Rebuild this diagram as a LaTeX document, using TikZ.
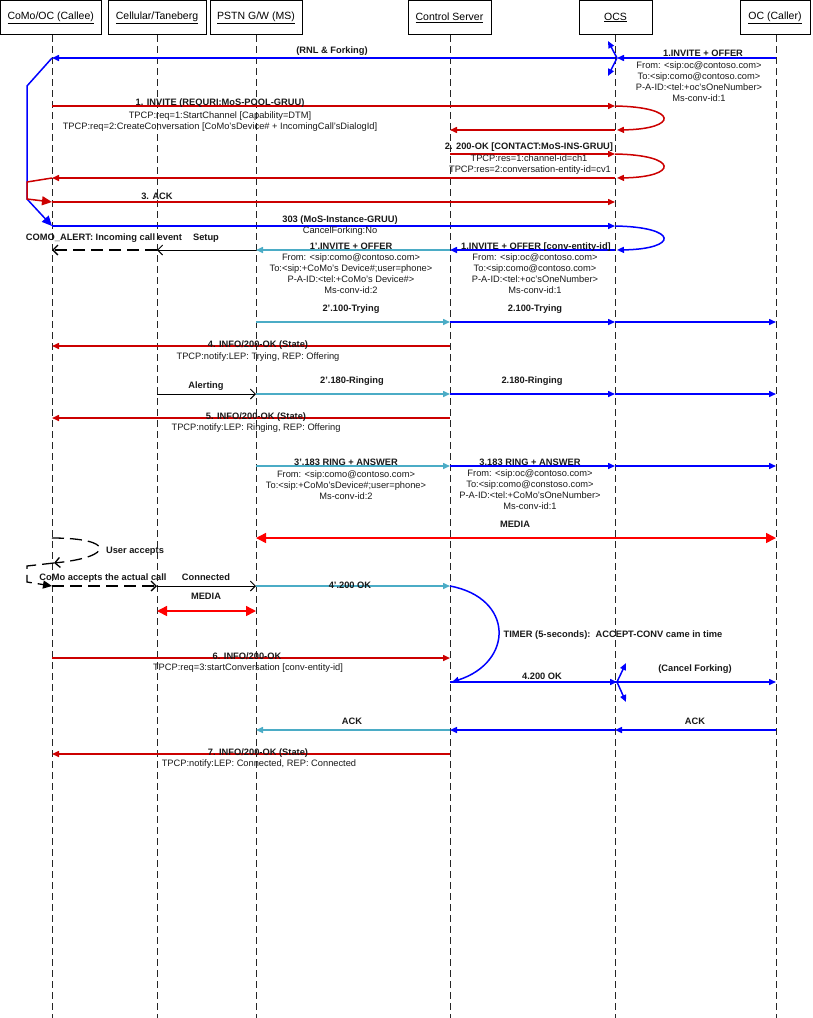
\documentclass[tikz,border=0pt]{standalone}
\usepackage{fontspec}
\setmainfont{Liberation Sans}
\usetikzlibrary{arrows.meta}
\definecolor{mred}{RGB}{204,0,0}
\definecolor{bred}{RGB}{255,0,0}
\definecolor{mblue}{RGB}{0,0,255}
\definecolor{mcyan}{RGB}{75,172,198}
\tikzset{
  life/.style={draw=black!85, line width=0.9pt, dash pattern=on 7pt off 4pt},
  hdr/.style={draw=black, line width=0.8pt, fill=white, minimum height=34pt, inner sep=0pt, font=\fontsize{10.5}{12}\selectfont},
  lb/.style={font=\fontsize{9.3}{11}\selectfont\bfseries, inner sep=0pt, anchor=base, text=black!90},
  lt/.style={font=\fontsize{9.3}{11}\selectfont, inner sep=0pt, anchor=base, text=black!90},
  tip/.style={-{Triangle[length=7pt,width=6pt]}},
  bigtip/.style={-{Triangle[length=10pt,width=9pt]}},
  rmsg/.style={draw=mred, line width=1.5pt, tip},
  bmsg/.style={draw=mblue, line width=1.5pt, tip},
  cmsg/.style={draw=mcyan, line width=1.5pt, tip},
  media/.style={draw=bred, line width=1.5pt, {Triangle[length=10pt,width=10pt]}-{Triangle[length=10pt,width=10pt]}},
  kmsg/.style={draw=black, line width=0.9pt, -{Straight Barb[length=5pt,width=10pt]}},
  kdash/.style={draw=black, line width=1.3pt, dash pattern=on 12pt off 6pt},
}
\begin{document}
\begin{tikzpicture}[x=1pt,y=-1pt]
\useasboundingbox (0,0) rectangle (813,1018);
% lifelines
\coordinate (L1) at (52,35);  \coordinate (B1) at (52,1018);
\coordinate (L2) at (157,35); \coordinate (B2) at (157,1018);
\coordinate (L3) at (256,35); \coordinate (B3) at (256,1018);
\coordinate (L4) at (450,35); \coordinate (B4) at (450,1018);
\coordinate (L5) at (615,35); \coordinate (B5) at (615,1018);
\coordinate (L6) at (776,35); \coordinate (B6) at (776,1018);
\foreach \i in {1,...,6} {\draw[life] (L\i) -- (B\i);}
% headers
\node[hdr, minimum width=100.5pt] (callee) at (50.75,17.5) {\underline{CoMo/OC (Callee)}};
\node[hdr, minimum width=98pt] (cell) at (157,17.5) {\underline{Cellular/Taneberg}};
\node[hdr, minimum width=92pt] (pstn) at (256,17.5) {\underline{PSTN G/W (MS)}};
\node[hdr, minimum width=83pt] (ctrl) at (449.5,17.5) {\underline{Control Server}};
\node[hdr, minimum width=73pt] (ocs) at (615.5,17.5) {\underline{OCS}};
\node[hdr, minimum width=70pt] (caller) at (775,17.5) {\underline{OC (Caller)}};

% helper coordinates
\coordinate (fk1) at (617,58);
\coordinate (fu1) at (608,41);
\coordinate (fd1) at (608,76);
\coordinate (a1) at (27,86);
\coordinate (a2) at (27,182);
\coordinate (a3) at (27,199);
\coordinate (fk2) at (617,682);
\coordinate (fu2) at (626,663);
\coordinate (fd2) at (626,702);
\coordinate (u1) at (54,563);
\coordinate (u2) at (27,566);
\coordinate (u3) at (27,582);

% forking invite
\draw[bmsg] (L6|-0,58) -- (fk1);
\draw[bmsg] (fk1) -- (fu1);
\draw[bmsg] (fk1) -- (fd1);
\draw[bmsg] (L5|-0,58) -- (L1|-0,58);
% activation blue
\draw[mblue, line width=1.5pt, bigtip] (L1|-0,58) -- (a1) -- (a3) -- (L1|-0,226);
% 1. INVITE
\draw[rmsg] (L1|-0,106) -- (L5|-0,106);
\draw[rmsg] (L5|-0,106) .. controls (679,107) and (679,129) .. (617,130);
\draw[rmsg] (L5|-0,130) -- (L4|-0,130);
% 2. 200 OK
\draw[rmsg] (L4|-0,154) -- (L5|-0,154);
\draw[rmsg] (L5|-0,154) .. controls (679,155) and (679,177) .. (617,178);
\draw[rmsg] (L5|-0,178) -- (L1|-0,178);
\draw[mred, line width=1.5pt, bigtip] (L1|-0,178) -- (a2) -- (a3) -- (L1|-0,202);
% 3. ACK
\draw[rmsg] (L1|-0,202) -- (L5|-0,202);
% 303
\draw[bmsg] (L1|-0,226) -- (L5|-0,226);
\draw[bmsg] (L5|-0,226) .. controls (679,227) and (679,249) .. (617,250);
\draw[bmsg] (L5|-0,250) -- (L4|-0,250);
\draw[cmsg] (L4|-0,250) -- (L3|-0,250);
\draw[kmsg] (L3|-0,250) -- (L2|-0,250);
\draw[kdash, -{Straight Barb[length=5pt,width=10pt]}] (L2|-0,250) -- (L1|-0,250);
% 100 trying
\draw[cmsg] (L3|-0,322) -- (L4|-0,322);
\draw[bmsg] (L4|-0,322) -- (L5|-0,322);
\draw[bmsg] (L5|-0,322) -- (L6|-0,322);
% 4. INFO
\draw[rmsg] (L4|-0,346) -- (L1|-0,346);
% alerting / ringing
\draw[kmsg] (L2|-0,394) -- (L3|-0,394);
\draw[cmsg] (L3|-0,394) -- (L4|-0,394);
\draw[bmsg] (L4|-0,394) -- (L5|-0,394);
\draw[bmsg] (L5|-0,394) -- (L6|-0,394);
% 5. INFO
\draw[rmsg] (L4|-0,418) -- (L1|-0,418);
% 183
\draw[cmsg] (L3|-0,466) -- (L4|-0,466);
\draw[bmsg] (L4|-0,466) -- (L5|-0,466);
\draw[bmsg] (L5|-0,466) -- (L6|-0,466);
% MEDIA
\draw[media] (L3|-0,538) -- (L6|-0,538);
% user accepts
\draw[kdash, -{Straight Barb[length=5pt,width=10pt]}] (L1|-0,538) .. controls (115,538) and (115,557) .. (u1);
\draw[kdash, -{Triangle[length=9pt,width=8pt]}] (u1) -- (u2) -- (u3) -- (L1|-0,586);
\draw[kdash, -{Straight Barb[length=5pt,width=10pt]}] (L1|-0,586) -- (L2|-0,586);
\draw[kmsg] (L2|-0,586) -- (L3|-0,586);
\draw[cmsg] (L3|-0,586) -- (L4|-0,586);
\draw[media] (L2|-0,611) -- (L3|-0,611);
% timer
\draw[bmsg] (L4|-0,586) .. controls (514,598) and (514,662) .. (452,682);
% 6. INFO
\draw[rmsg] (L1|-0,658) -- (L4|-0,658);
% 4.200 OK
\draw[bmsg] (L4|-0,682) -- (fk2);
\draw[bmsg] (fk2) -- (fu2);
\draw[bmsg] (fk2) -- (fd2);
\draw[bmsg] (L5|-0,682) -- (L6|-0,682);
% ACK
\draw[bmsg] (L6|-0,730) -- (L5|-0,730);
\draw[bmsg] (L5|-0,730) -- (L4|-0,730);
\draw[cmsg] (L4|-0,730) -- (L3|-0,730);
% 7. INFO
\draw[rmsg] (L4|-0,754) -- (L1|-0,754);

% labels
\node[lb] (t01) at (332,53.5) {(RNL \& Forking)};
\node[lb] (t02) at (703,56.5) {1.INVITE + OFFER};
\node[lt] (t03) at (699,68.5) {From: <sip:oc@contoso.com>};
\node[lt] (t04) at (699,79.5) {To:<sip:como@contoso.com>};
\node[lt] (t05) at (699,90.5) {P-A-ID:<tel:+oc’sOneNumber>};
\node[lt] (t06) at (699,101.5) {Ms-conv-id:1};
\node[lb] (t07) at (220,105.5) {1. INVITE (REQURI:MoS-POOL-GRUU)};
\node[lt] (t08) at (220,118.5) {TPCP:req=1:StartChannel [Capability=DTM]};
\node[lt] (t09) at (220,129.5) {TPCP:req=2:CreateConversation [CoMo’sDevice\# + IncomingCall’sDialogId]};
\node[lb] (t10) at (529,149.5) {2. 200-OK [CONTACT:MoS-INS-GRUU]};
\node[lt] (t11) at (529,161.5) {TPCP:res=1:channel-id=ch1};
\node[lt] (t12) at (530,172.5) {TPCP:res=2:conversation-entity-id=cv1};
\node[lb] (t13) at (157,199.5) {3. ACK};
\node[lb] (t14) at (340,222.5) {303 (MoS-Instance-GRUU)};
\node[lt] (t15) at (340,233.5) {CancelForking:No};
\node[lb] (t16) at (104,240.5) {COMO\_ALERT: Incoming call event};
\node[lb] (t17) at (206,240.5) {Setup};
\node[lb] (t18) at (351,249.5) {1’.INVITE + OFFER};
\node[lt] (t19) at (351,260.5) {From: <sip:como@contoso.com>};
\node[lt] (t20) at (351,271.5) {To:<sip:+CoMo’s Device\#;user=phone>};
\node[lt] (t21) at (351,282.5) {P-A-ID:<tel:+CoMo’s Device\#>};
\node[lt] (t22) at (351,293.5) {Ms-conv-id:2};
\node[lb] (t23) at (536,249.5) {1.INVITE + OFFER [conv-entity-id]};
\node[lt] (t24) at (535,260.5) {From: <sip:oc@contoso.com>};
\node[lt] (t25) at (535,271.5) {To:<sip:como@contoso.com>};
\node[lt] (t26) at (535,282.5) {P-A-ID:<tel:+oc’sOneNumber>};
\node[lt] (t27) at (535,293.5) {Ms-conv-id:1};
\node[lb] (t28) at (351,311.5) {2’.100-Trying};
\node[lb] (t29) at (535,311.5) {2.100-Trying};
\node[lb] (t30) at (258,347.5) {4. INFO/200-OK (State)};
\node[lt] (t31) at (258,359.5) {TPCP:notify:LEP: Trying, REP: Offering};
\node[lb] (t32) at (206,388.5) {Alerting};
\node[lb] (t33) at (352,383.5) {2’.180-Ringing};
\node[lb] (t34) at (532,383.5) {2.180-Ringing};
\node[lb] (t35) at (256,419.5) {5. INFO/200-OK (State)};
\node[lt] (t36) at (256,430.5) {TPCP:notify:LEP: Ringing, REP: Offering};
\node[lb] (t37) at (346,465.5) {3’.183 RING + ANSWER};
\node[lt] (t38) at (346,477.5) {From: <sip:como@contoso.com>};
\node[lt] (t39) at (346,488.5) {To:<sip:+CoMo’sDevice\#;user=phone>};
\node[lt] (t40) at (346,499.5) {Ms-conv-id:2};
\node[lb] (t41) at (530,465.5) {3.183 RING + ANSWER};
\node[lt] (t42) at (530,476.5) {From: <sip:oc@contoso.com>};
\node[lt] (t43) at (530,487.5) {To:<sip:como@constoso.com>};
\node[lt] (t44) at (530,498.5) {P-A-ID:<tel:+CoMo’sOneNumber>};
\node[lt] (t45) at (530,509.5) {Ms-conv-id:1};
\node[lb] (t46) at (515,527.5) {MEDIA};
\node[lb] (t47) at (135,553.5) {User accepts};
\node[lb] (t48) at (103,580.5) {CoMo accepts the actual call};
\node[lb] (t49) at (206,580.5) {Connected};
\node[lb] (t50) at (350,588.5) {4’.200 OK};
\node[lb] (t51) at (206,599.5) {MEDIA};
\node[lb] (t52) at (613,637.5) {TIMER (5-seconds):\ \ ACCEPT-CONV came in time};
\node[lb] (t53) at (247,659.5) {6. INFO/200-OK};
\node[lt] (t54) at (248,670.5) {TPCP:req=3:startConversation [conv-entity-id]};
\node[lb] (t55) at (542,679.5) {4.200 OK};
\node[lb] (t56) at (695,671.5) {(Cancel Forking)};
\node[lb] (t57) at (352,724.5) {ACK};
\node[lb] (t58) at (695,724.5) {ACK};
\node[lb] (t59) at (258,755.5) {7. INFO/200-OK (State)};
\node[lt] (t60) at (259,766.5) {TPCP:notify:LEP: Connected, REP: Connected};
\end{tikzpicture}
\end{document}
